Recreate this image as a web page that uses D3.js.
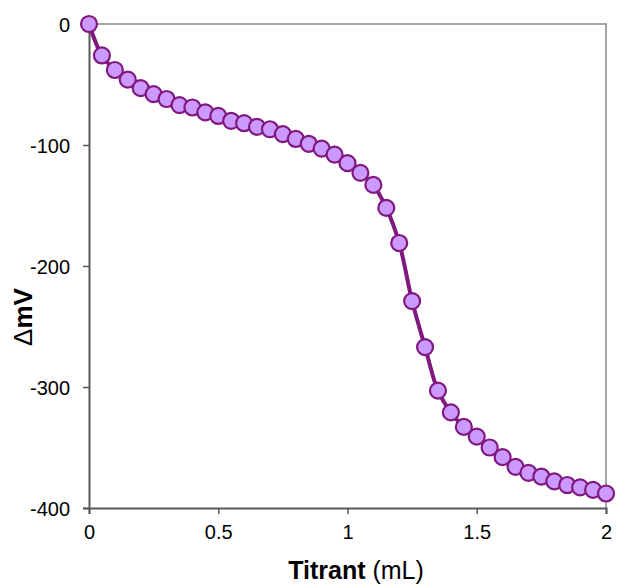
<!DOCTYPE html>
<html>
<head>
<meta charset="utf-8">
<script src="https://cdn.jsdelivr.net/npm/d3@7"></script>
<style>
  body { margin: 0; background: #fff; }
  text { font-family: "Liberation Sans", Arial, sans-serif; }
</style>
</head>
<body>
<svg id="chart" width="619" height="586"></svg>
<script>
// titrant volume (mL) and potential change (mV)
const titrant = [0, 0.05, 0.1, 0.15, 0.2, 0.25, 0.3, 0.35, 0.4, 0.45, 0.5,
    0.55, 0.6, 0.65, 0.7, 0.75, 0.8, 0.85, 0.9, 0.95, 1.0,
    1.05, 1.1, 1.15, 1.2, 1.25, 1.3, 1.35, 1.4, 1.45, 1.5,
    1.55, 1.6, 1.65, 1.7, 1.75, 1.8, 1.85, 1.9, 1.95, 2.0]
const deltaMV = [0, -26, -38, -46, -53, -58, -62, -67, -69, -73, -76,
    -80, -82, -85, -87, -91, -95, -99, -103, -108, -115,
    -123, -133, -152, -181, -229, -267, -303, -321, -333, -341,
    -350, -358, -366, -371, -374, -378, -381, -383, -385, -388]
const xTicks = [0, 0.5, 1, 1.5, 2]
const yTicks = [0, -100, -200, -300, -400]

const svg = d3.select("#chart")
const plotL = 89, plotR = 606, plotT = 24, plotB = 508

const x = d3.scaleLinear().domain([0, 2]).range([plotL, plotR])
const y = d3.scaleLinear().domain([0, -400]).range([plotT, plotB])

// frame: light top/right
svg.append("path")
    .attr("d", `M${plotL},${plotT}H${plotR}V${plotB}`)
    .attr("fill", "none")
    .attr("stroke", "#a6a6a6")
    .attr("stroke-width", 2)

const xAxis = svg.append("g")
    .attr("transform", `translate(0,${plotB})`)
    .call(d3.axisBottom(x).tickValues(xTicks).tickSize(6).tickPadding(11)
        .tickFormat(d => String(d)))
const yAxis = svg.append("g")
    .attr("transform", `translate(${plotL},0)`)
    .call(d3.axisLeft(y).tickValues(yTicks).tickSize(6).tickPadding(13)
        .tickFormat(d => String(d)))

;[xAxis, yAxis].forEach(function(g) {
    g.select(".domain").attr("stroke", "#595959").attr("stroke-width", 2)
    g.selectAll(".tick line").attr("stroke", "#595959").attr("stroke-width", 1.5)
    g.selectAll(".tick text").attr("font-size", 20).attr("fill", "#000")
        .style("font-family", "'Liberation Sans', Arial, sans-serif")
})
yAxis.selectAll(".tick text").attr("dy", "0.35em")

const pts = titrant.map((t, i) => ({t: t, v: deltaMV[i]}))

svg.append("path")
    .datum(pts)
    .attr("fill", "none")
    .attr("stroke", "#80197f")
    .attr("stroke-width", 4)
    .attr("d", d3.line().x(d => x(d.t)).y(d => y(d.v)).curve(d3.curveCatmullRom))

svg.append("g").selectAll("circle")
    .data(pts)
    .enter()
    .append("circle")
    .attr("cx", d => x(d.t))
    .attr("cy", d => y(d.v))
    .attr("r", 8)
    .attr("fill", "#cc99ff")
    .attr("stroke", "#80197f")
    .attr("stroke-width", 2.2)

// axis titles
const xt = svg.append("text")
    .attr("x", 356)
    .attr("y", 579)
    .attr("text-anchor", "middle")
    .attr("font-size", 25)
xt.append("tspan").attr("font-weight", "bold").text("Titrant")
xt.append("tspan").text(" (mL)")

const yt = svg.append("text")
    .attr("transform", "translate(32,317) rotate(-90)")
    .attr("text-anchor", "middle")
    .attr("font-size", 26)
yt.append("tspan").text("Δ")
yt.append("tspan").attr("font-weight", "bold").text("mV")
</script>
</body>
</html>
